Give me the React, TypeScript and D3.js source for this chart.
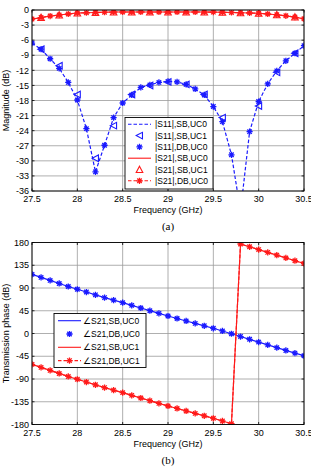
import React from "react";
import * as d3 from "d3";

// Frequency samples (GHz)
const FREQ = [
  27.5, 27.6, 27.7, 27.8, 27.9, 28.0, 28.1, 28.2, 28.3, 28.4, 28.5,
  28.6, 28.7, 28.8, 28.9, 29.0, 29.1, 29.2, 29.3, 29.4, 29.5,
  29.6, 29.7, 29.8, 29.9, 30.0, 30.1, 30.2, 30.3, 30.4, 30.5,
];
const FREQ_EVEN = [
  27.6, 27.8, 28.0, 28.2, 28.4, 28.6, 28.8, 29.0, 29.2, 29.4, 29.6, 29.8,
  30.0, 30.2, 30.4,
];

// (a) magnitude, dB
const S11_SB_UC0 = [
  -6.6, -7.8, -9.7, -11.6, -14.4, -17.9, -23.6, -32.2, -26.9, -21.4, -18.5,
  -16.9, -15.4, -14.9, -14.4, -14.2, -14.3, -14.8, -15.7, -16.9, -19.2,
  -22.2, -28.8, -40.0, -24.2, -18.2, -14.7, -12.1, -10.1, -8.6, -7.1,
];
const S11_SB_UC1 = [
  -7.8, -11.1, -16.8, -29.5, -23.0, -16.8, -15.0, -14.3, -14.8, -16.8, -21.4,
  -39.0, -19.1, -12.4, -8.6,
];
const S11_DB_UC0 = [
  -6.6, -7.8, -9.7, -11.6, -14.4, -17.9, -23.6, -32.2, -26.9, -21.4, -18.5,
  -16.9, -15.4, -14.9, -14.4, -14.2, -14.3, -14.8, -15.7, -16.9, -19.2,
  -22.2, -28.8, -40.0, -24.2, -18.2, -14.7, -12.1, -10.1, -8.6, -7.1,
];
const S21_SB_UC0 = [
  -1.8, -1.5, -1.2, -1.0, -0.8, -0.6, -0.55, -0.5, -0.45, -0.4, -0.4,
  -0.4, -0.4, -0.4, -0.4, -0.4, -0.4, -0.4, -0.4, -0.4, -0.42,
  -0.45, -0.5, -0.55, -0.6, -0.65, -0.8, -0.95, -1.15, -1.4, -1.75,
];
const S21_SB_UC1 = [
  -1.5, -1.0, -0.6, -0.5, -0.4, -0.4, -0.4, -0.4, -0.4, -0.4, -0.45,
  -0.55, -0.65, -0.95, -1.4,
];
const S21_DB_UC0 = [
  -1.8, -1.5, -1.2, -1.0, -0.8, -0.6, -0.55, -0.5, -0.45, -0.4, -0.4,
  -0.4, -0.4, -0.4, -0.4, -0.4, -0.4, -0.4, -0.4, -0.4, -0.42,
  -0.45, -0.5, -0.55, -0.6, -0.65, -0.8, -0.95, -1.15, -1.4, -1.75,
];

// (b) transmission phase, degrees
const P21_SB_UC0 = [
  117, 111, 105, 99, 93, 87.5, 82, 76.5, 71, 66, 61,
  55.7, 50.4, 45.1, 39.8, 34.6, 29.7, 24.8, 20, 15.2, 10.3,
  5, -0.5, -6, -11.5, -17, -22.5, -28, -33.5, -38.8, -44,
];
const P21_DB_UC0 = P21_SB_UC0.slice();
const P21_SB_UC1 = [
  -61, -67, -73, -79, -85, -90.5, -96, -101.5, -107, -112, -117,
  -122.3, -127.6, -132.9, -138.2, -143.4, -148.3, -153.2, -158, -162.8, -167.7,
  -173, -178.5, 177, 171.5, 166, 160.5, 155, 149.5, 144, 138.8,
];
const P21_DB_UC1 = P21_SB_UC1.slice();

const X_TICKS = [27.5, 28, 28.5, 29, 29.5, 30, 30.5];
const MAG_TICKS = [0, -3, -6, -9, -12, -15, -18, -21, -24, -27, -30, -33, -36];
const PHASE_TICKS = [180, 135, 90, 45, 0, -45, -90, -135, -180];

const BLUE = "#1a1aff";
const RED = "#ff1a1a";
const FONT = "'Liberation Sans', Arial, sans-serif";

type Pt = [number, number];
const zip = (xs: number[], ys: number[]): Pt[] => xs.map((x, i) => [x, ys[i]]);

function Star({ x, y, color, r = 3.1 }: { x: number; y: number; color: string; r?: number }) {
  const d = r * 0.72;
  return (
    <path
      d={`M${x - r},${y}H${x + r}M${x},${y - r}V${y + r}M${x - d},${y - d}L${x + d},${y + d}M${x - d},${y + d}L${x + d},${y - d}`}
      stroke={color}
      strokeWidth={1.3}
      fill="none"
    />
  );
}

function TriLeft({ x, y, color, r = 3.3 }: { x: number; y: number; color: string; r?: number }) {
  return (
    <path
      d={`M${x - r},${y}L${x + r * 0.9},${y - r}L${x + r * 0.9},${y + r}Z`}
      stroke={color}
      strokeWidth={1.1}
      fill="none"
    />
  );
}

function TriUp({ x, y, color, r = 3.3 }: { x: number; y: number; color: string; r?: number }) {
  return (
    <path
      d={`M${x},${y - r}L${x + r},${y + r * 0.9}L${x - r},${y + r * 0.9}Z`}
      stroke={color}
      strokeWidth={1.1}
      fill="none"
    />
  );
}

type AxesProps = {
  id: string;
  top: number;
  bottom: number;
  left: number;
  right: number;
  yDomain: [number, number];
  yTicks: number[];
  yLabel: string;
  caption: string;
  children: (x: d3.ScaleLinear<number, number>, y: d3.ScaleLinear<number, number>) => React.ReactNode;
  legend: React.ReactNode;
};

function Axes({ id, top, bottom, left, right, yDomain, yTicks, yLabel, caption, children, legend }: AxesProps) {
  const x = d3.scaleLinear().domain([27.5, 30.5]).range([left, right]);
  const y = d3.scaleLinear().domain(yDomain).range([bottom, top]);
  const tl = 2.5;
  return (
    <g>
      <defs>
        <clipPath id={id}>
          <rect x={left} y={top} width={right - left} height={bottom - top} />
        </clipPath>
      </defs>
      <rect x={left} y={top} width={right - left} height={bottom - top} fill="#fff" />
      {/* grid */}
      {X_TICKS.map((t) => (
        <line key={"gx" + t} x1={x(t)} x2={x(t)} y1={top} y2={bottom} stroke="#9a9a9a" strokeWidth={0.8} />
      ))}
      {yTicks.map((t) => (
        <line key={"gy" + t} x1={left} x2={right} y1={y(t)} y2={y(t)} stroke="#9a9a9a" strokeWidth={0.8} />
      ))}
      {/* tick marks */}
      {X_TICKS.map((t) => (
        <g key={"tx" + t} stroke="#000" strokeWidth={0.8}>
          <line x1={x(t)} x2={x(t)} y1={bottom} y2={bottom - tl} />
          <line x1={x(t)} x2={x(t)} y1={top} y2={top + tl} />
        </g>
      ))}
      {yTicks.map((t) => (
        <g key={"ty" + t} stroke="#000" strokeWidth={0.8}>
          <line x1={left} x2={left + tl} y1={y(t)} y2={y(t)} />
          <line x1={right} x2={right - tl} y1={y(t)} y2={y(t)} />
        </g>
      ))}
      <g clipPath={`url(#${id})`}>{children(x, y)}</g>
      <rect x={left} y={top} width={right - left} height={bottom - top} fill="none" stroke="#000" strokeWidth={0.9} />
      {/* tick labels */}
      {X_TICKS.map((t) => (
        <text key={"lx" + t} x={x(t)} y={bottom + 11} textAnchor="middle" fontSize={9} fontFamily={FONT} fill="#000">
          {String(t)}
        </text>
      ))}
      {yTicks.map((t) => (
        <text key={"ly" + t} x={left - 3} y={y(t) + 3.2} textAnchor="end" fontSize={9} fontFamily={FONT} fill="#000">
          {String(t)}
        </text>
      ))}
      <text x={(left + right) / 2} y={bottom + 22} textAnchor="middle" fontSize={9} fontFamily={FONT} fill="#000">
        Frequency (GHz)
      </text>
      <text
        transform={`translate(${8.5},${(top + bottom) / 2}) rotate(-90)`}
        textAnchor="middle"
        fontSize={9}
        fontFamily={FONT}
        fill="#000"
      >
        {yLabel}
      </text>
      <text x={(left + right) / 2} y={bottom + 39} textAnchor="middle" fontSize={11} fontFamily="'Liberation Serif', 'Times New Roman', serif" fill="#000">
        {caption}
      </text>
      {legend}
    </g>
  );
}

export default function App() {
  const line = (x: d3.ScaleLinear<number, number>, y: d3.ScaleLinear<number, number>) =>
    d3.line<Pt>().x((d) => x(d[0])).y((d) => y(d[1]));

  const L = 32;
  const R = 304;

  // legend (a)
  const la = { x0: 125, y0: 117.5, x1: 213, y1: 189, row0: 124.3, step: 11.3, s0: 128, s1: 151, tx: 155 };
  const rowsA = [
    { label: "|S11|,SB,UC0", color: BLUE, dash: "3.5,2", line: true, marker: "" },
    { label: "|S11|,SB,UC1", color: BLUE, dash: "", line: false, marker: "triL" },
    { label: "|S11|,DB,UC0", color: BLUE, dash: "", line: false, marker: "star" },
    { label: "|S21|,SB,UC0", color: RED, dash: "", line: true, marker: "" },
    { label: "|S21|,SB,UC1", color: RED, dash: "", line: false, marker: "triU" },
    { label: "|S21|,DB,UC0", color: RED, dash: "3.5,2", line: true, marker: "star" },
  ];
  // legend (b)
  const lb = { x0: 54, y0: 313.5, x1: 146, y1: 367.5, row0: 320.7, step: 13.3, s0: 58, s1: 81, tx: 83 };
  const rowsB = [
    { label: "∠S21,SB,UC0", color: BLUE, dash: "", line: true, marker: "" },
    { label: "∠S21,DB,UC0", color: BLUE, dash: "", line: false, marker: "star" },
    { label: "∠S21,SB,UC1", color: RED, dash: "", line: true, marker: "" },
    { label: "∠S21,DB,UC1", color: RED, dash: "3.5,2", line: true, marker: "star" },
  ];

  const renderLegend = (
    lg: { x0: number; y0: number; x1: number; y1: number; row0: number; step: number; s0: number; s1: number; tx: number },
    rows: { label: string; color: string; dash: string; line: boolean; marker: string }[]
  ) => (
    <g>
      <rect x={lg.x0} y={lg.y0} width={lg.x1 - lg.x0} height={lg.y1 - lg.y0} fill="#fff" stroke="#000" strokeWidth={0.9} />
      {rows.map((r, i) => {
        const yy = lg.row0 + i * lg.step;
        const mx = (lg.s0 + lg.s1) / 2;
        return (
          <g key={r.label}>
            {r.line && (
              <line x1={lg.s0} x2={lg.s1} y1={yy} y2={yy} stroke={r.color} strokeWidth={1.1} strokeDasharray={r.dash || undefined} />
            )}
            {r.marker === "star" && <Star x={mx} y={yy} color={r.color} />}
            {r.marker === "triL" && <TriLeft x={mx} y={yy} color={r.color} />}
            {r.marker === "triU" && <TriUp x={mx} y={yy} color={r.color} />}
            <text x={lg.tx} y={yy + 3} fontSize={8.5} fontFamily={FONT} fill="#000">
              {r.label}
            </text>
          </g>
        );
      })}
    </g>
  );

  return (
    <svg width={311} height={467} style={{ position: "absolute", left: 0, top: 0, background: "#fff" }}>
      <Axes
        id="clipA"
        top={10}
        bottom={191}
        left={L}
        right={R}
        yDomain={[-36, 0]}
        yTicks={MAG_TICKS}
        yLabel="Magnitude (dB)"
        caption="(a)"
        legend={renderLegend(la, rowsA)}
      >
        {(x, y) => {
          const ln = line(x, y);
          return (
            <g>
              <path d={ln(zip(FREQ, S21_SB_UC0)) || ""} fill="none" stroke={RED} strokeWidth={1.2} />
              <path d={ln(zip(FREQ, S21_DB_UC0)) || ""} fill="none" stroke={RED} strokeWidth={1.2} strokeDasharray="3.5,2" />
              {zip(FREQ, S21_DB_UC0).map((p, i) => (
                <Star key={"s21s" + i} x={x(p[0])} y={y(p[1])} color={RED} />
              ))}
              {zip(FREQ_EVEN, S21_SB_UC1).map((p, i) => (
                <TriUp key={"s21t" + i} x={x(p[0])} y={y(p[1])} color={RED} />
              ))}
              <path d={ln(zip(FREQ, S11_SB_UC0)) || ""} fill="none" stroke={BLUE} strokeWidth={1.2} strokeDasharray="3.5,2" />
              {zip(FREQ, S11_DB_UC0).map((p, i) => (
                <Star key={"s11s" + i} x={x(p[0])} y={y(p[1])} color={BLUE} />
              ))}
              {zip(FREQ_EVEN, S11_SB_UC1).map((p, i) => (
                <TriLeft key={"s11t" + i} x={x(p[0])} y={y(p[1])} color={BLUE} />
              ))}
            </g>
          );
        }}
      </Axes>
      <Axes
        id="clipB"
        top={242.5}
        bottom={424.5}
        left={L}
        right={R}
        yDomain={[-180, 180]}
        yTicks={PHASE_TICKS}
        yLabel="Transmission phase (dB)"
        caption="(b)"
        legend={renderLegend(lb, rowsB)}
      >
        {(x, y) => {
          const ln = line(x, y);
          return (
            <g>
              <path d={ln(zip(FREQ, P21_SB_UC0)) || ""} fill="none" stroke={BLUE} strokeWidth={1.2} />
              {zip(FREQ, P21_DB_UC0).map((p, i) => (
                <Star key={"pb" + i} x={x(p[0])} y={y(p[1])} color={BLUE} />
              ))}
              <path d={ln(zip(FREQ, P21_SB_UC1)) || ""} fill="none" stroke={RED} strokeWidth={1.2} />
              <path d={ln(zip(FREQ, P21_DB_UC1)) || ""} fill="none" stroke={RED} strokeWidth={1.2} strokeDasharray="3.5,2" />
              {zip(FREQ, P21_DB_UC1).map((p, i) => (
                <Star key={"pr" + i} x={x(p[0])} y={y(p[1])} color={RED} />
              ))}
            </g>
          );
        }}
      </Axes>
    </svg>
  );
}
